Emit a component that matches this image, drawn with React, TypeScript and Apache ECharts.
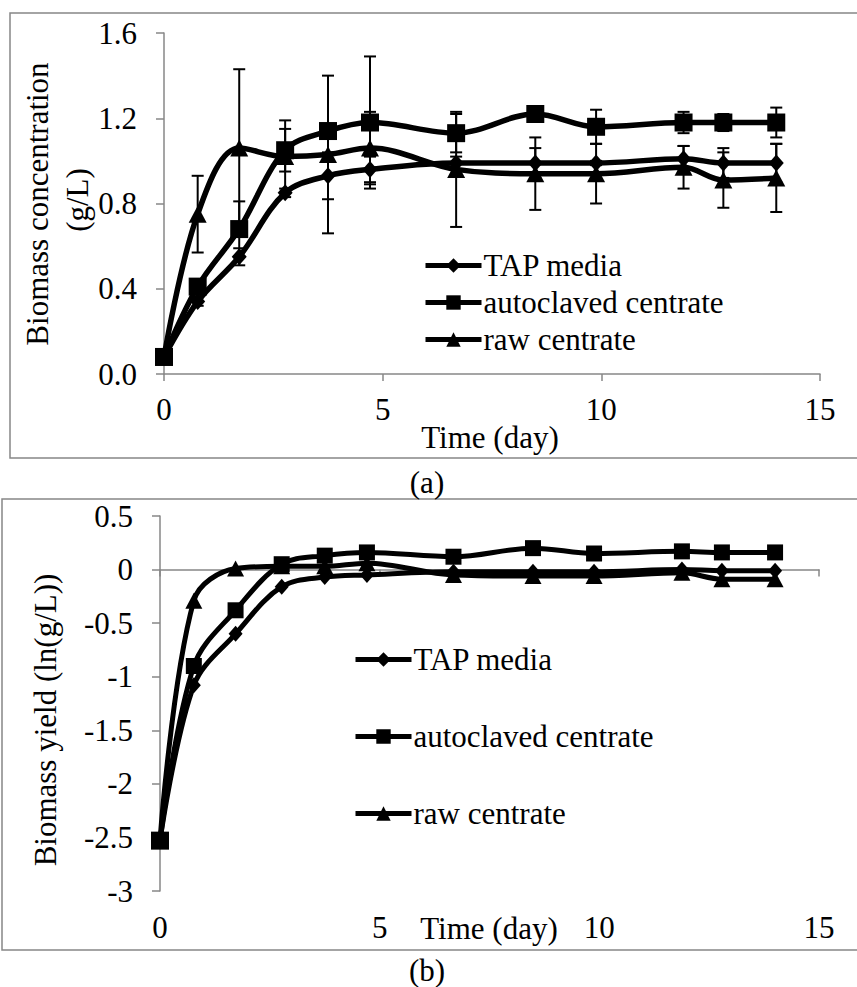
import React, { useEffect, useRef } from "react";
import * as echarts from "echarts";

const days = [0, 0.77, 1.72, 2.77, 3.75, 4.71, 6.68, 8.49, 9.88, 11.88, 12.79, 14.0];
const seriesNames = ["TAP media", "autoclaved centrate", "raw centrate"];

// (a) biomass concentration (g/L)
const tapConc = [0.08, 0.34, 0.55, 0.85, 0.93, 0.96, 0.99, 0.99, 0.99, 1.01, 0.99, 0.99];
const autoConc = [0.08, 0.41, 0.68, 1.05, 1.14, 1.18, 1.13, 1.22, 1.16, 1.18, 1.18, 1.18];
const rawConc = [0.08, 0.75, 1.06, 1.02, 1.03, 1.06, 0.96, 0.94, 0.94, 0.97, 0.91, 0.92];
const tapErr = [0, 0.02, 0.04, 0.02, 0.11, 0.06, 0.03, 0.07, 0.01, 0.06, 0.07, 0.09];
const autoErr = [0, 0.02, 0.13, 0.1, 0.02, 0.31, 0.09, 0.01, 0.08, 0.05, 0.04, 0.07];
const rawErr = [0, 0.18, 0.37, 0.17, 0.37, 0.17, 0.27, 0.17, 0.14, 0.1, 0.13, 0.16];

// (b) biomass yield ln(g/L)
const tapLn = [-2.53, -1.08, -0.6, -0.16, -0.07, -0.05, -0.02, -0.02, -0.02, 0.0, -0.01, -0.01];
const autoLn = [-2.53, -0.9, -0.38, 0.05, 0.13, 0.16, 0.12, 0.2, 0.15, 0.17, 0.16, 0.16];
const rawLn = [-2.53, -0.29, 0.01, 0.03, 0.03, 0.06, -0.05, -0.06, -0.06, -0.03, -0.09, -0.09];

const xTicks = [0, 5, 10, 15];
const yTicksA = [0, 0.4, 0.8, 1.2, 1.6];
const yTicksB = [-3, -2.5, -2, -1.5, -1, -0.5, 0, 0.5];

const FONT = "Liberation Serif";
const FS = 31;
const GRAY = "#878787";

const pair = (vals: number[]) => days.map((d, i) => [d, vals[i]]);
const errData = (vals: number[], errs: number[]) =>
  days
    .map((d, i) => [d, vals[i] - errs[i], vals[i] + errs[i], errs[i]])
    .filter((r) => r[3] > 0)
    .map((r) => [r[0], r[1], r[2]]);

const errRender = (_params: any, api: any) => {
  const x = api.value(0);
  const pLo = api.coord([x, api.value(1)]);
  const pHi = api.coord([x, api.value(2)]);
  const w = 6;
  const style = { stroke: "#000", lineWidth: 2 };
  return {
    type: "group",
    children: [
      { type: "line", shape: { x1: pLo[0], y1: pLo[1], x2: pHi[0], y2: pHi[1] }, style },
      { type: "line", shape: { x1: pLo[0] - w, y1: pLo[1], x2: pLo[0] + w, y2: pLo[1] }, style },
      { type: "line", shape: { x1: pHi[0] - w, y1: pHi[1], x2: pHi[0] + w, y2: pHi[1] }, style },
    ],
  };
};

const symbols = ["diamond", "rect", "triangle"];
const symSizesA: any[] = [[15, 17], 18, [18, 17]];
const symSizesB: any[] = [[14, 16], 16, [17, 16]];

export default function App() {
  const ref = useRef<HTMLDivElement>(null);
  useEffect(() => {
    if (!ref.current) return;
    const chart = echarts.init(ref.current, undefined, { renderer: "svg" });
    const axisLine = { show: true, lineStyle: { color: GRAY, width: 1.5 } };
    const axisTick = { show: true, length: 7, lineStyle: { color: GRAY, width: 1.5 } };
    const labelStyle = { color: "#000", fontSize: FS, fontFamily: FONT };

    const concSets = [tapConc, autoConc, rawConc];
    const lnSets = [tapLn, autoLn, rawLn];
    const errSets = [tapErr, autoErr, rawErr];

    const series: any[] = [];
    concSets.forEach((vals, k) => {
      series.push({
        type: "line",
        name: seriesNames[k],
        xAxisIndex: 0,
        yAxisIndex: 0,
        data: pair(vals),
        smooth: 0.35,
        symbol: symbols[k],
        symbolSize: symSizesA[k],
        showAllSymbol: true,
        lineStyle: { color: "#000", width: 5.5 },
        itemStyle: { color: "#000" },
        z: 2,
      });
    });
    concSets.forEach((vals, k) => {
      series.push({
        type: "custom",
        name: seriesNames[k] + " error",
        xAxisIndex: 0,
        yAxisIndex: 0,
        data: errData(vals, errSets[k]),
        encode: { x: 0, y: [1, 2] },
        renderItem: errRender,
        z: 3,
        silent: true,
      });
    });
    lnSets.forEach((vals, k) => {
      series.push({
        type: "line",
        name: seriesNames[k],
        xAxisIndex: 1,
        yAxisIndex: 1,
        data: pair(vals),
        smooth: 0.35,
        symbol: symbols[k],
        symbolSize: k === 1 ? (_v: any, p: any) => (p.dataIndex === 0 ? 18 : 16) : symSizesB[k],
        showAllSymbol: true,
        lineStyle: { color: "#000", width: 5 },
        itemStyle: { color: "#000" },
        z: 2,
      });
    });

    const legendBase = {
      orient: "vertical",
      itemWidth: 56,
      itemHeight: 18,
      data: seriesNames,
      selectedMode: false,
      lineStyle: { width: 5, color: "#000" },
      itemStyle: { color: "#000" },
      textStyle: { color: "#000", fontSize: FS, fontFamily: FONT, padding: [0, 0, 0, -3] },
    };

    const txt = (text: string, x: number, y: number, rot = 0) => ({
      type: "text",
      x,
      y,
      rotation: rot,
      style: { text, fontSize: FS, fontFamily: FONT, fill: "#000", align: "center", verticalAlign: "middle" },
    });

    chart.setOption({
      animation: false,
      backgroundColor: "#fff",
      grid: [
        { left: 164, top: 33, width: 656, height: 341 },
        { left: 160, top: 516, width: 659, height: 375 },
      ],
      xAxis: [0, 1].map((i) => ({
        type: "value",
        gridIndex: i,
        min: xTicks[0],
        max: xTicks[xTicks.length - 1],
        interval: 5,
        axisLine,
        axisTick,
        splitLine: { show: false },
        axisLabel: { ...labelStyle, margin: i === 0 ? 20 : 21 },
      })),
      yAxis: [
        {
          type: "value",
          gridIndex: 0,
          min: yTicksA[0],
          max: yTicksA[yTicksA.length - 1],
          interval: 0.4,
          axisLine,
          axisTick: { ...axisTick, length: 8 },
          splitLine: { show: false },
          axisLabel: { ...labelStyle, margin: 27, formatter: (v: number) => v.toFixed(1) },
        },
        {
          type: "value",
          gridIndex: 1,
          min: yTicksB[0],
          max: yTicksB[yTicksB.length - 1],
          interval: 0.5,
          axisLine,
          axisTick: { ...axisTick, length: 8 },
          splitLine: { show: false },
          axisLabel: { ...labelStyle, margin: 27 },
        },
      ],
      legend: [
        { ...legendBase, left: 418, top: 245, itemGap: 6 },
        { ...legendBase, left: 348, top: 639, itemGap: 46 },
      ],
      graphic: [
        { type: "rect", shape: { x: 10, y: 13, width: 900, height: 445 }, style: { fill: "none", stroke: GRAY, lineWidth: 1.5 }, z: -1 },
        { type: "rect", shape: { x: 2, y: 499, width: 900, height: 451 }, style: { fill: "none", stroke: GRAY, lineWidth: 1.5 }, z: -1 },
        txt("Biomass concentration", 37, 204, Math.PI / 2),
        txt("(g/L)", 77, 200, Math.PI / 2),
        txt("Time (day)", 490, 437),
        txt("(a)", 427, 482),
        txt("Biomass yield (ln(g/L))", 45, 720, Math.PI / 2),
        txt("Time (day)", 489, 928),
        txt("(b)", 427, 970),
      ],
      series,
    });
    return () => chart.dispose();
  }, []);
  return <div ref={ref} style={{ position: "fixed", left: 0, top: 0, width: 857, height: 987 }} />;
}
